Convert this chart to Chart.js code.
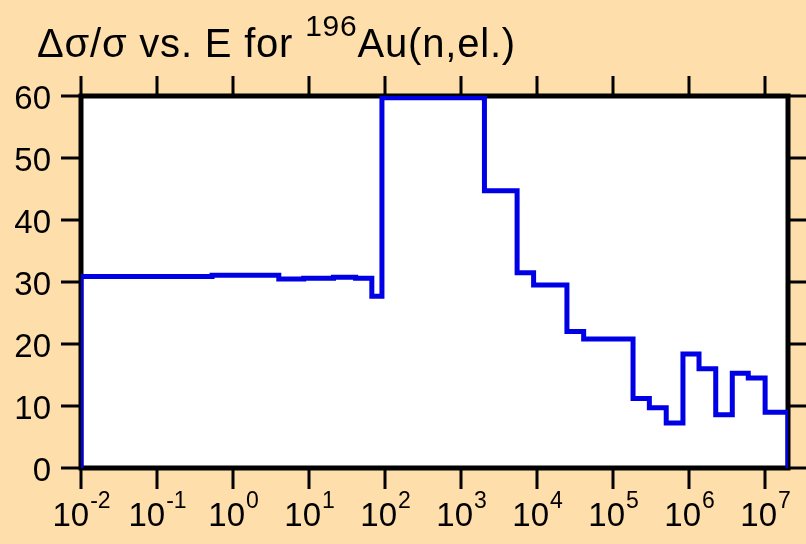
<!DOCTYPE html>
<html><head><meta charset="utf-8">
<script src="https://cdn.jsdelivr.net/npm/chart.js@4"></script>
<style>html,body{margin:0;padding:0;background:#FEDEAA;}canvas{display:block;}</style>
</head><body>
<canvas id="c" width="806" height="544"></canvas>
<script>
// Bin edges (energy, eV) and relative uncertainty values (%) per bin
const binEdges = [0.01, 0.1, 0.53, 4.0, 8.5, 21, 41, 67, 91, 2030, 3370, 5460, 9000, 15000, 24700, 41000, 65000, 1.07e5, 1.83e5, 3.0e5, 5.0e5, 8.3e5, 1.35e6, 2.24e6, 3.7e6, 6.0e6, 1.0e7, 2.0e7];
const binValues = [30.9, 30.9, 31.1, 30.5, 30.6, 30.75, 30.6, 27.7, 59.7, 44.7, 44.7, 31.5, 29.5, 29.5, 22.0, 20.8, 20.8, 20.8, 11.2, 9.7, 7.25, 18.4, 16.0, 8.6, 15.3, 14.5, 9.0];
const yTickValues = [0, 10, 20, 30, 40, 50, 60];
const xTickExponents = [-2, -1, 0, 1, 2, 3, 4, 5, 6, 7];
const titleMain1 = "\u0394\u03C3/\u03C3 vs. E for ";
const titleSup = "196";
const titleMain2 = "Au(n,el.)";

const points = [{x: binEdges[0], y: 0}];
binValues.forEach((v, i) => points.push({x: binEdges[i], y: v}));
points.push({x: binEdges[binEdges.length - 1], y: 0});

const FONT = '"Liberation Sans", Arial, sans-serif';

const framePlugin = {
  id: 'frame',
  beforeDatasetsDraw(chart) {
    const ctx = chart.ctx;
    const a = chart.chartArea;
    const xs = chart.scales.x, ys = chart.scales.y;
    ctx.save();
    ctx.strokeStyle = '#000';
    ctx.lineWidth = 5;
    ctx.strokeRect(a.left, a.top, a.right - a.left, a.bottom - a.top);
    ctx.lineWidth = 3;
    ctx.beginPath();
    yTickValues.forEach(v => {
      const y = Math.round(ys.getPixelForValue(v));
      ctx.moveTo(a.left - 20, y); ctx.lineTo(a.left, y);
      ctx.moveTo(a.right, y); ctx.lineTo(a.right + 20, y);
    });
    xTickExponents.forEach(e => {
      const x = Math.round(xs.getPixelForValue(Math.pow(10, e)));
      ctx.moveTo(x, a.bottom); ctx.lineTo(x, a.bottom + 21);
      ctx.moveTo(x, a.top); ctx.lineTo(x, a.top - 20);
    });
    ctx.stroke();
    // y labels
    ctx.fillStyle = '#000';
    ctx.font = '33px ' + FONT;
    ctx.textAlign = 'right';
    ctx.textBaseline = 'alphabetic';
    yTickValues.forEach(v => {
      ctx.fillText(String(v), 51, ys.getPixelForValue(v) + 13);
    });
    // x labels
    ctx.textAlign = 'left';
    xTickExponents.forEach(e => {
      const x = xs.getPixelForValue(Math.pow(10, e));
      ctx.font = '33px ' + FONT;
      const w1 = ctx.measureText('10').width;
      ctx.font = '23px ' + FONT;
      const es = String(e);
      const w2 = ctx.measureText(es).width;
      const x0 = x - (w1 + w2) / 2;
      ctx.font = '33px ' + FONT;
      ctx.fillText('10', x0, 526);
      ctx.font = '23px ' + FONT;
      ctx.fillText(es, x0 + w1 + 1, 508);
    });
    // title
    ctx.letterSpacing = '0.8px';
    ctx.font = '40px ' + FONT;
    let tx = 37;
    ctx.fillText(titleMain1, tx, 57);
    tx += ctx.measureText(titleMain1).width;
    ctx.font = '30px ' + FONT;
    ctx.fillText(titleSup, tx, 36);
    tx += ctx.measureText(titleSup).width;
    ctx.font = '40px ' + FONT;
    ctx.fillText(titleMain2, tx, 57);
    ctx.restore();
  }
};

const bgPlugin = {
  id: 'bg',
  beforeDraw(chart) {
    const ctx = chart.ctx, a = chart.chartArea;
    ctx.save();
    ctx.fillStyle = '#FEDEAA';
    ctx.fillRect(0, 0, chart.width, chart.height);
    ctx.fillStyle = '#FFFFFF';
    ctx.fillRect(a.left, a.top, a.right - a.left, a.bottom - a.top);
    ctx.restore();
  }
};

new Chart(document.getElementById('c'), {
  type: 'line',
  data: {
    datasets: [{
      data: points,
      stepped: 'before',
      borderColor: '#0000E6',
      borderWidth: 5,
      pointRadius: 0,
      fill: false,
      tension: 0
    }]
  },
  options: {
    responsive: false,
    animation: false,
    devicePixelRatio: 1,
    layout: {padding: {left: 81, right: 18, top: 96, bottom: 76}},
    plugins: {legend: {display: false}, tooltip: {enabled: false}, title: {display: false}},
    scales: {
      x: {type: 'logarithmic', min: 0.01, max: 2e7, display: false},
      y: {type: 'linear', min: 0, max: 60, display: false}
    }
  },
  plugins: [bgPlugin, framePlugin]
});
</script>
</body></html>
